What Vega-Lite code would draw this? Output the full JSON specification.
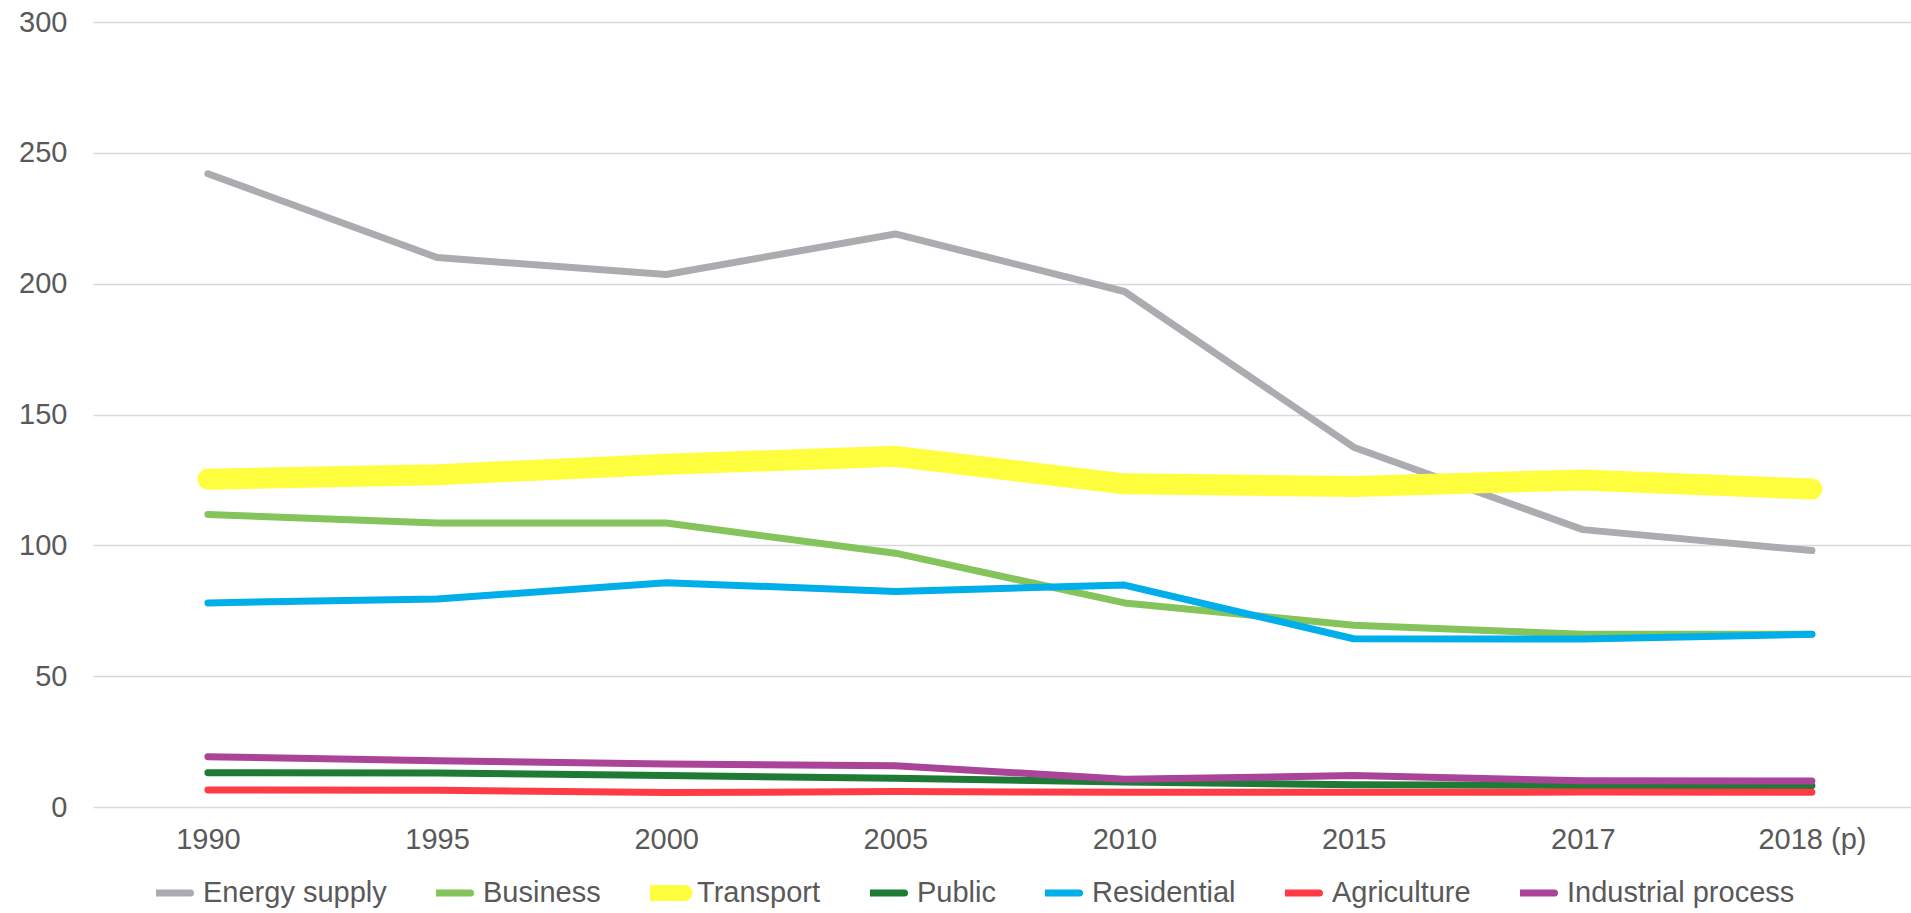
{
  "$schema": "https://vega.github.io/schema/vega-lite/v6.json",
  "autosize": {"type": "none"},
  "padding": {"left": 93, "top": 22, "right": 0, "bottom": 106},
  "width": 1818,
  "height": 785,
  "background": "white",
  "config": {
    "view": {"stroke": null},
    "font": "Liberation Sans",
    "axis": {"labelFont": "Liberation Sans", "labelColor": "#595959", "labelFontSize": 29}
  },
  "data": {
    "values": [
      {"year": "1990", "series": "Energy supply", "value": 242},
      {"year": "1995", "series": "Energy supply", "value": 210},
      {"year": "2000", "series": "Energy supply", "value": 203.5},
      {"year": "2005", "series": "Energy supply", "value": 219},
      {"year": "2010", "series": "Energy supply", "value": 197},
      {"year": "2015", "series": "Energy supply", "value": 137.5},
      {"year": "2017", "series": "Energy supply", "value": 106},
      {"year": "2018 (p)", "series": "Energy supply", "value": 98},
      {"year": "1990", "series": "Business", "value": 111.8},
      {"year": "1995", "series": "Business", "value": 108.5},
      {"year": "2000", "series": "Business", "value": 108.5},
      {"year": "2005", "series": "Business", "value": 97},
      {"year": "2010", "series": "Business", "value": 78},
      {"year": "2015", "series": "Business", "value": 69.5},
      {"year": "2017", "series": "Business", "value": 66},
      {"year": "2018 (p)", "series": "Business", "value": 66},
      {"year": "1990", "series": "Transport", "value": 125.3},
      {"year": "1995", "series": "Transport", "value": 127},
      {"year": "2000", "series": "Transport", "value": 131},
      {"year": "2005", "series": "Transport", "value": 134},
      {"year": "2010", "series": "Transport", "value": 123.5},
      {"year": "2015", "series": "Transport", "value": 122.5},
      {"year": "2017", "series": "Transport", "value": 125},
      {"year": "2018 (p)", "series": "Transport", "value": 121.5},
      {"year": "1990", "series": "Public", "value": 13.1},
      {"year": "1995", "series": "Public", "value": 13},
      {"year": "2000", "series": "Public", "value": 12},
      {"year": "2005", "series": "Public", "value": 11},
      {"year": "2010", "series": "Public", "value": 9.6},
      {"year": "2015", "series": "Public", "value": 8.5},
      {"year": "2017", "series": "Public", "value": 8.2},
      {"year": "2018 (p)", "series": "Public", "value": 8.1},
      {"year": "1990", "series": "Residential", "value": 78},
      {"year": "1995", "series": "Residential", "value": 79.5},
      {"year": "2000", "series": "Residential", "value": 85.7},
      {"year": "2005", "series": "Residential", "value": 82.4},
      {"year": "2010", "series": "Residential", "value": 84.8},
      {"year": "2015", "series": "Residential", "value": 64.3},
      {"year": "2017", "series": "Residential", "value": 64.2},
      {"year": "2018 (p)", "series": "Residential", "value": 66},
      {"year": "1990", "series": "Agriculture", "value": 6.5},
      {"year": "1995", "series": "Agriculture", "value": 6.4},
      {"year": "2000", "series": "Agriculture", "value": 5.5},
      {"year": "2005", "series": "Agriculture", "value": 5.9},
      {"year": "2010", "series": "Agriculture", "value": 5.6},
      {"year": "2015", "series": "Agriculture", "value": 5.6},
      {"year": "2017", "series": "Agriculture", "value": 5.7},
      {"year": "2018 (p)", "series": "Agriculture", "value": 5.6},
      {"year": "1990", "series": "Industrial process", "value": 19.2},
      {"year": "1995", "series": "Industrial process", "value": 17.7},
      {"year": "2000", "series": "Industrial process", "value": 16.4},
      {"year": "2005", "series": "Industrial process", "value": 15.8},
      {"year": "2010", "series": "Industrial process", "value": 10.6},
      {"year": "2015", "series": "Industrial process", "value": 12},
      {"year": "2017", "series": "Industrial process", "value": 10},
      {"year": "2018 (p)", "series": "Industrial process", "value": 9.9}
    ]
  },
  "encoding": {
    "x": {
      "field": "year",
      "type": "ordinal",
      "sort": null,
      "scale": {"type": "point", "padding": 0.467, "align": 0.537},
      "axis": {"title": null, "labelAngle": 0, "domain": false, "ticks": false, "grid": false, "labelPadding": 18}
    },
    "y": {
      "field": "value",
      "type": "quantitative",
      "scale": {"domain": [0, 300], "nice": false},
      "axis": {"title": null, "values": [0, 50, 100, 150, 200, 250, 300], "domain": false, "ticks": false, "labelPadding": 26, "gridColor": "#D9D9D9", "gridWidth": 1.5}
    },
    "color": {
      "field": "series",
      "type": "nominal",
      "sort": null,
      "scale": {
        "domain": ["Energy supply", "Business", "Transport", "Public", "Residential", "Agriculture", "Industrial process"],
        "range": ["#ABACB0", "#84C45A", "#FEFE3E", "#1F7A35", "#00AEEA", "#FF3C46", "#A94498"]
      },
      "legend": {
        "title": null,
        "orient": "none",
        "direction": "horizontal",
        "legendX": 63,
        "legendY": 853,
        "symbolType": "stroke",
        "symbolSize": 1600,
        "symbolStrokeWidth": 16,
        "labelFont": "Liberation Sans",
        "labelFontSize": 29,
        "labelColor": "#595959",
        "labelLimit": 0,
        "labelOffset": 18,
        "columnPadding": 49,
        "clipHeight": 36,
        "encode": {
          "symbols": {
            "update": {
              "strokeWidth": {"signal": "datum.value === 'Transport' ? 16 : 7"},
              "strokeCap": {"value": "round"}
            }
          }
        }
      }
    }
  },
  "layer": [
    {
      "transform": [{"filter": "datum.series !== 'Transport'"}],
      "mark": {"type": "line", "strokeCap": "round", "strokeJoin": "round", "strokeWidth": 7}
    },
    {
      "transform": [{"filter": "datum.series === 'Transport'"}],
      "mark": {"type": "line", "strokeCap": "round", "strokeJoin": "round", "strokeWidth": 21}
    }
  ]
}
